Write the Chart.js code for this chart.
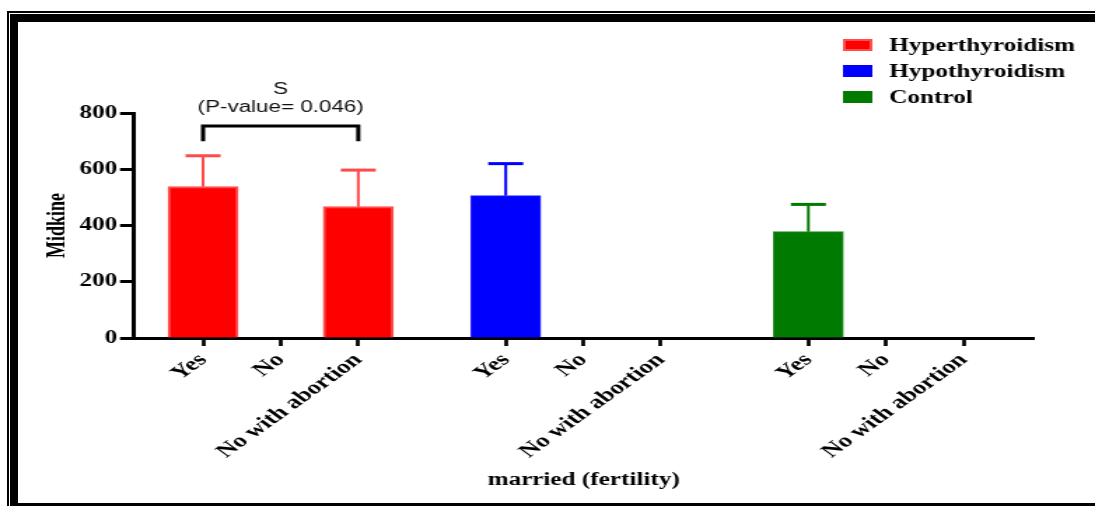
<!DOCTYPE html>
<html>
<head>
<meta charset="utf-8">
<title>Midkine by fertility status</title>
<script src="https://cdn.jsdelivr.net/npm/chart.js@4/dist/chart.umd.min.js"></script>
<style>
  html, body { margin: 0; padding: 0; background: #fff; }
  #page { position: relative; width: 1095px; height: 506px; overflow: hidden; background: #fff; }
  /* the plot is laid out narrow and widened horizontally, giving the wide lettering */
  #plot { position: absolute; left: 0; top: 0; width: 782px; height: 506px;
          transform-origin: 0 0; transform: scaleX(1.40026); }
  .rule { position: absolute; background: #000; }
</style>
</head>
<body>
<div id="page">
  <div id="plot"><canvas id="chart"></canvas></div>
  <!-- double frame: thin outer rule and heavy inner band -->
  <div class="rule" style="left:7px;top:11px;width:2px;height:495px"></div>
  <div class="rule" style="left:7px;top:11px;right:0;height:2px"></div>
  <div class="rule" style="left:10px;top:14px;width:8px;height:492px"></div>
  <div class="rule" style="left:10px;top:14px;right:0;height:8px"></div>
  <div class="rule" style="left:10px;top:503px;right:0;height:3px"></div>
</div>
<script>
// ---- data ----
const categories = ['Yes', 'No', 'No with abortion'];
const groupNames = ['Hyperthyroidism', 'Hypothyroidism', 'Control'];

const hyperMean   = [538, null, 467];
const hyperSD     = [110, null, 130];
const hypoMean    = [506, null, null];
const hypoSD      = [114, null, null];
const controlMean = [378, null, null];
const controlSD   = [97,  null, null];

const yTicks = [0, 200, 400, 600, 800];

const xTitle = 'married (fertility)';
const yTitle = 'Midkine';
const sigMark = 'S';
const sigText = '(P-value= 0.046)';

// ---- layout helpers ----
const GROUP_STRIDE = 3.9;              // three slots plus a gap between groups
const slot = (g, i) => g * GROUP_STRIDE + i;
const serif = 'Liberation Serif, Times New Roman, serif';

const means = [hyperMean, hypoMean, controlMean];
const sds = [hyperSD, hypoSD, controlSD];
const fills = ['#ff0000', '#0000ff', '#007a00'];
const edges = ['#ff4d4d', '#2b2bff', '#2e8b2e'];
const edgeWidths = [2, 1, 1];
const whiskers = ['#ff4a4a', '#0000ff', '#007a00'];

const tickPositions = [];
const tickLabels = [];
groupNames.forEach((_, g) => categories.forEach((c, i) => {
  tickPositions.push(slot(g, i));
  tickLabels.push(c);
}));

const datasets = groupNames.map((name, g) => {
  const pts = [];
  means[g].forEach((m, i) => {
    if (m !== null) pts.push({ x: slot(g, i), y: m, sd: sds[g][i] });
  });
  return {
    label: name,
    data: pts,
    backgroundColor: fills[g],
    borderColor: edges[g],
    borderWidth: edgeWidths[g],
    whiskerColor: whiskers[g],
    barThickness: 50,
    grouped: false
  };
});

// upward SD whiskers with a cap
const errorBars = {
  id: 'errorBars',
  afterDatasetsDraw(chart) {
    const { ctx } = chart;
    const yS = chart.scales.y;
    chart.data.datasets.forEach((ds, d) => {
      const meta = chart.getDatasetMeta(d);
      meta.data.forEach((bar, j) => {
        const p = ds.data[j];
        const top = yS.getPixelForValue(p.y + p.sd);
        ctx.save();
        ctx.strokeStyle = ds.whiskerColor;
        ctx.lineCap = 'butt';
        ctx.lineWidth = 2;
        ctx.beginPath();
        ctx.moveTo(bar.x, bar.y);
        ctx.lineTo(bar.x, top);
        ctx.stroke();
        ctx.lineWidth = 3;
        ctx.beginPath();
        ctx.moveTo(bar.x - 12.5, top);
        ctx.lineTo(bar.x + 12.5, top);
        ctx.stroke();
        ctx.restore();
      });
    });
  }
};

// significance bracket between Yes and No with abortion (Hyperthyroidism)
const bracket = {
  id: 'bracket',
  afterDraw(chart) {
    const { ctx } = chart;
    const xS = chart.scales.x, yS = chart.scales.y;
    const x1 = xS.getPixelForValue(slot(0, 0));
    const x2 = xS.getPixelForValue(slot(0, 2));
    const yb = yS.getPixelForValue(754);
    const yl = yS.getPixelForValue(700);
    ctx.save();
    ctx.strokeStyle = '#000';
    ctx.lineWidth = 3;
    ctx.lineJoin = 'miter';
    ctx.beginPath();
    ctx.moveTo(x1, yl);
    ctx.lineTo(x1, yb);
    ctx.lineTo(x2, yb);
    ctx.lineTo(x2, yl);
    ctx.stroke();
    ctx.fillStyle = '#111';
    ctx.font = '16px "Liberation Sans", Arial, sans-serif';
    ctx.textAlign = 'center';
    ctx.textBaseline = 'middle';
    const cx = (x1 + x2) / 2;
    ctx.fillText(sigMark, cx, yb - 36);
    ctx.fillText(sigText, cx, yb - 18);
    ctx.restore();
  }
};

// stacked legend in the upper right corner
const sideLegend = {
  id: 'sideLegend',
  afterDraw(chart) {
    const { ctx } = chart;
    ctx.save();
    ctx.font = 'bold 18px ' + serif;
    ctx.textBaseline = 'middle';
    ctx.textAlign = 'left';
    chart.data.datasets.forEach((ds, d) => {
      const cy = 45 + d * 26;
      ctx.fillStyle = ds.backgroundColor;
      ctx.fillRect(602, cy - 6, 21, 12);
      if (d === 0) {
        ctx.strokeStyle = ds.borderColor;
        ctx.lineWidth = 2;
        ctx.strokeRect(603, cy - 5, 19, 10);
      }
      ctx.fillStyle = '#000';
      ctx.fillText(ds.label, 635, cy + 1);
    });
    ctx.restore();
  }
};

new Chart(document.getElementById('chart'), {
  type: 'bar',
  data: { datasets },
  plugins: [errorBars, bracket, sideLegend],
  options: {
    responsive: true,
    maintainAspectRatio: false,
    animation: false,
    layout: { padding: { top: 113, right: 44, bottom: 0, left: 0 } },
    plugins: { legend: { display: false }, tooltip: { enabled: false } },
    scales: {
      x: {
        type: 'linear',
        offset: false,
        min: -0.89,
        max: 10.7,
        afterFit(axis) { axis.height = 168; },
        afterBuildTicks(axis) { axis.ticks = tickPositions.map(v => ({ value: v })); },
        border: { display: true, color: '#000', width: 3 },
        grid: { offset: false, drawOnChartArea: false, drawTicks: true, tickLength: 8, tickWidth: 2.7, tickColor: '#000' },
        ticks: {
          autoSkip: false,
          maxRotation: 45,
          minRotation: 45,
          padding: 3,
          color: '#000',
          font: { family: serif, size: 19, weight: 'bold' },
          callback: (v, i) => tickLabels[i]
        },
        title: {
          display: true,
          text: xTitle,
          color: '#000',
          font: { family: serif, size: 18, weight: 'bold' },
          padding: { top: 0, bottom: 15 }
        }
      },
      y: {
        min: 0,
        max: 800,
        afterFit(axis) { axis.width = 95.7; },
        afterBuildTicks(axis) { axis.ticks = yTicks.map(v => ({ value: v })); },
        border: { display: true, color: '#000', width: 3 },
        grid: { offset: false, drawOnChartArea: false, drawTicks: true, tickLength: 10, tickWidth: 3, tickColor: '#000' },
        ticks: {
          padding: 2,
          color: '#000',
          font: { family: serif, size: 18, weight: 'bold' }
        },
        title: {
          display: true,
          text: yTitle,
          color: '#000',
          font: { family: serif, size: 18, weight: 'bold' },
          padding: { top: 31, bottom: 0 }
        }
      }
    }
  }
});
</script>
</body>
</html>
